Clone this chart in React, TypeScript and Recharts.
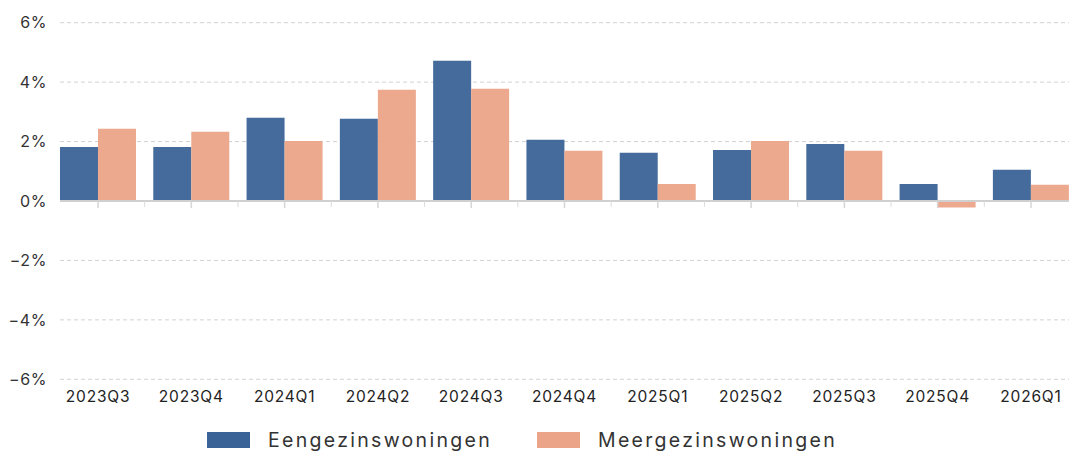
import { BarChart, Bar, XAxis, YAxis, CartesianGrid, ReferenceLine, Legend } from 'recharts'

const quarters = ['2023Q3', '2023Q4', '2024Q1', '2024Q2', '2024Q3', '2024Q4', '2025Q1', '2025Q2', '2025Q3', '2025Q4', '2026Q1']
const eengezins = [1.82, 1.82, 2.80, 2.77, 4.72, 2.06, 1.62, 1.72, 1.92, 0.57, 1.05]
const meergezins = [2.43, 2.33, 2.02, 3.74, 3.78, 1.69, 0.57, 2.02, 1.69, -0.22, 0.55]
const yTicks = [-6, -4, -2, 0, 2, 4, 6]

const data = quarters.map((q, i) => ({ q, e: eengezins[i], m: meergezins[i] }))

const BLUE = '#3a6397'
const SALMON = '#eba488'
const FONT = 'Inter, "Open Sans", sans-serif'

const W = 1069
const H = 451
const TOP = 22.7
const LEFT = 60
const PLOT_H = 356.6
const EDGE = 8.6
const BAND = (W - LEFT + 2 * EDGE) / quarters.length

function CatTick(props: any) {
  const { x, y, payload } = props
  const zeroY = y - PLOT_H / 2
  return (
    <g>
      <line x1={x} x2={x} y1={zeroY} y2={zeroY + 7} stroke="#d6d6d6" strokeWidth={1.5} />
      <line x1={x + BAND / 2} x2={x + BAND / 2} y1={zeroY} y2={zeroY + 6} stroke="#dcdcdc" strokeWidth={1} />
      <text x={x} y={y + 17} textAnchor="middle" dominantBaseline="central" fontSize={15.5} letterSpacing={0.8} fill="#222" fontFamily={FONT}>
        {payload.value}
      </text>
    </g>
  )
}

function LegendBox() {
  const item = (color: string, label: string, ml: number) => (
    <div style={{ display: 'flex', alignItems: 'center', marginLeft: ml }}>
      <div style={{ width: 43, height: 16, background: color, marginRight: 18 }} />
      <span style={{ fontSize: 19.5, letterSpacing: 2.3, color: '#333', fontFamily: FONT }}>{label}</span>
    </div>
  )
  return (
    <div style={{ display: 'flex', alignItems: 'center' }}>
      {item(BLUE, 'Eengezinswoningen', 0)}
      {item(SALMON, 'Meergezinswoningen', 45)}
    </div>
  )
}

export default function App() {
  return (
    <div style={{ position: 'absolute', left: 0, top: 0, width: W, height: H, background: '#fff' }}>
      <BarChart
        width={W}
        height={H}
        data={data}
        margin={{ top: TOP, right: 0, left: 0, bottom: H - TOP - PLOT_H - 40 }}
        barCategoryGap="9.2%"
        barGap={0}
      >
        <CartesianGrid vertical={false} stroke="#d2d2d2" strokeDasharray="4 3" />
        <XAxis
          dataKey="q"
          height={40}
          axisLine={false}
          tickLine={false}
          tickSize={0}
          tickMargin={0}
          interval={0}
          padding={{ left: -EDGE, right: -EDGE }}
          tick={<CatTick />}
        />
        <YAxis
          width={LEFT}
          domain={[-6, 6]}
          ticks={yTicks}
          axisLine={false}
          tickLine={false}
          tickSize={0}
          tickMargin={13}
          tickFormatter={(v: number) => `${v < 0 ? '\u2212' : ''}${Math.abs(v)}%`}
          tick={{ fontSize: 16, fill: '#333', fontFamily: FONT, letterSpacing: 0.6 }}
        />
        <Bar dataKey="e" name="Eengezinswoningen" fill={BLUE} fillOpacity={0.95} isAnimationActive={false} />
        <Bar dataKey="m" name="Meergezinswoningen" fill={SALMON} fillOpacity={0.95} isAnimationActive={false} />
        <ReferenceLine y={0} stroke="#d0d0d0" strokeWidth={2} />
        <Legend
          layout="horizontal"
          verticalAlign="middle"
          align="center"
          content={() => <LegendBox />}
          wrapperStyle={{ position: 'absolute', top: 428, left: 207, width: 'auto' }}
        />
      </BarChart>
    </div>
  )
}
